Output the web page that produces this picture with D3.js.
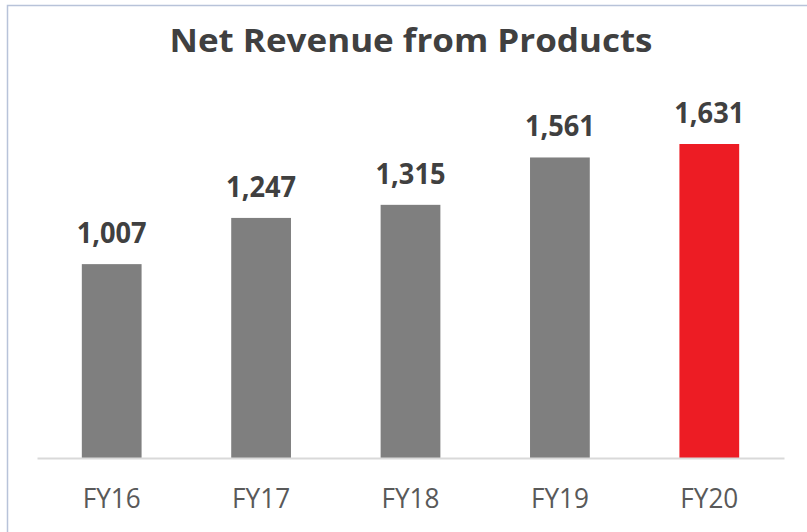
<!DOCTYPE html>
<html>
<head>
<meta charset="utf-8">
<script src="https://cdn.jsdelivr.net/npm/d3@7"></script>
<style>
  html, body { margin: 0; padding: 0; background: #fff; }
  svg { display: block; }
</style>
</head>
<body>
<svg id="chart" width="807" height="532"></svg>
<script>
// Net revenue from products, by fiscal year
const categories = ["FY16", "FY17", "FY18", "FY19", "FY20"];
const revenue = [1007, 1247, 1315, 1561, 1631];
const barColors = ["#7f7f7f", "#7f7f7f", "#7f7f7f", "#7f7f7f", "#ed1c24"];
const chartTitle = "Net Revenue from Products";

const svg = d3.select("#chart");
const W = 807, H = 532;
const font = "'Open Sans', sans-serif";

// chart frame
svg.append("rect")
  .attr("x", 7.5).attr("y", 5.5)
  .attr("width", W + 10).attr("height", H + 10)
  .attr("fill", "#fff")
  .attr("stroke", "#b8c3d9").attr("stroke-width", 1.5);

const plot = { left: 37, right: 784, top: 100, bottom: 458 };

const x = d3.scaleBand()
  .domain(categories)
  .range([plot.left, plot.right])
  .paddingInner(0.6)
  .paddingOuter(0.3);

// 1631 reaches y=144 from a baseline of 458
const y = d3.scaleLinear()
  .domain([0, 1631 * (plot.bottom - plot.top) / (plot.bottom - 144)])
  .range([plot.bottom, plot.top]);

// title
svg.append("text")
  .attr("x", 411).attr("y", 52)
  .attr("text-anchor", "middle")
  .attr("font-family", font)
  .attr("font-weight", "bold")
  .attr("font-size", 33)
  .attr("textLength", 483)
  .attr("lengthAdjust", "spacingAndGlyphs")
  .attr("fill", "#404040")
  .text(chartTitle);

// bars
svg.append("g").selectAll("rect")
  .data(categories)
  .join("rect")
  .attr("x", d => x(d))
  .attr("width", x.bandwidth())
  .attr("y", (d, i) => y(revenue[i]))
  .attr("height", (d, i) => y(0) - y(revenue[i]))
  .attr("fill", (d, i) => barColors[i]);

// value labels
svg.append("g").selectAll("text")
  .data(categories)
  .join("text")
  .attr("x", d => x(d) + x.bandwidth() / 2)
  .attr("y", (d, i) => y(revenue[i]) - 21)
  .attr("text-anchor", "middle")
  .attr("font-family", font)
  .attr("font-weight", "bold")
  .attr("font-size", 28)
  .attr("textLength", 70)
  .attr("lengthAdjust", "spacingAndGlyphs")
  .attr("fill", "#404040")
  .text((d, i) => d3.format(",")(revenue[i]));

// category axis
const axis = svg.append("g")
  .attr("transform", `translate(0,${plot.bottom})`)
  .call(d3.axisBottom(x).tickSize(0).tickPadding(0));
axis.select(".domain").attr("stroke", "#d9d9d9").attr("stroke-width", 2);
axis.selectAll("text")
  .attr("dy", null)
  .attr("y", 50)
  .attr("font-family", font)
  .attr("font-size", 28)
  .attr("textLength", 58)
  .attr("lengthAdjust", "spacingAndGlyphs")
  .attr("fill", "#595959");
</script>
</body>
</html>
